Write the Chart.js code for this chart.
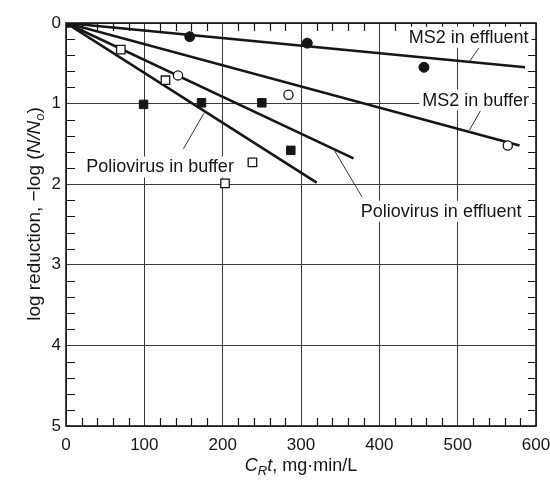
<!DOCTYPE html>
<html><head><meta charset="utf-8">
<script src="https://cdn.jsdelivr.net/npm/chart.js@4.4.1/dist/chart.umd.min.js"></script>
<style>html,body{margin:0;padding:0;background:#fff;}#wrap{width:550px;height:485px;position:relative;}</style>
</head><body><div id="wrap"><canvas id="c" width="550" height="485"></canvas></div>
<script>
// ---- data ----
const xTickLabels = [0, 100, 200, 300, 400, 500, 600];
const yTickLabels = [0, 1, 2, 3, 4, 5];

const ms2EffluentX = [158, 308, 457];
const ms2EffluentY = [0.17, 0.25, 0.55];
const ms2BufferX = [143, 284, 564];
const ms2BufferY = [0.65, 0.89, 1.52];
const polioEffluentX = [0, 99, 173, 250, 287];
const polioEffluentY = [0, 1.01, 0.99, 0.99, 1.58];
const polioBufferX = [70, 127, 203, 238];
const polioBufferY = [0.33, 0.71, 1.99, 1.73];

// fitted lines: start and end points
const fitMs2EffluentX = [0, 586];
const fitMs2EffluentY = [0, 0.55];
const fitMs2BufferX = [0, 579];
const fitMs2BufferY = [0, 1.52];
const fitPolioEffluentX = [0, 367];
const fitPolioEffluentY = [0, 1.68];
const fitPolioBufferX = [0, 320];
const fitPolioBufferY = [0, 1.98];

// annotation labels: text, centre (x,y), leader from (x,y) to (x,y)
const labelTexts = ['MS2 in effluent', 'MS2 in buffer', 'Poliovirus in effluent', 'Poliovirus in buffer'];
const labelX = [514, 523, 479, 120];
const labelY = [0.17, 0.95, 2.33, 1.78];
const leaderFromX = [527, 529, 378, 150];
const leaderFromY = [0.31, 1.09, 2.16, 1.56];
const leaderToX = [515, 515, 342, 176];
const leaderToY = [0.48, 1.33, 1.57, 1.12];

// ---- chart ----
const pts = (xs, ys) => xs.map((x, i) => ({x: x, y: ys[i]}));
const INK = '#161616';
const FONT = '"Liberation Sans", Arial, Helvetica, sans-serif';

const lineDs = (xs, ys) => ({
  data: pts(xs, ys), showLine: true, borderColor: INK, borderWidth: 2.6,
  pointRadius: 0, fill: false, order: 5
});

const extras = {
  id: 'extras',
  afterDatasetsDraw(chart) {
    const ctx = chart.ctx, a = chart.chartArea;
    const xs = chart.scales.x, ys = chart.scales.y;
    ctx.save();
    // frame
    ctx.strokeStyle = INK; ctx.lineWidth = 1.6;
    ctx.strokeRect(a.left, a.top, a.right - a.left, a.bottom - a.top);
    // minor ticks
    ctx.lineWidth = 1.2;
    ctx.beginPath();
    for (let v = 20; v < 600; v += 20) {
      if (v % 100 === 0) continue;
      const px = Math.round(xs.getPixelForValue(v)) + 0.5;
      ctx.moveTo(px, a.bottom); ctx.lineTo(px, a.bottom - 8);
      ctx.moveTo(px, a.top); ctx.lineTo(px, a.top + 8);
    }
    for (let k = 1; k < 25; k++) {
      if (k % 5 === 0) continue;
      const py = Math.round(ys.getPixelForValue(k / 5)) + 0.5;
      ctx.moveTo(a.left, py); ctx.lineTo(a.left + 9, py);
      ctx.moveTo(a.right, py); ctx.lineTo(a.right - 8, py);
    }
    ctx.stroke();
    // labels with white background
    ctx.font = '18px ' + FONT;
    ctx.textBaseline = 'middle';
    ctx.textAlign = 'center';
    for (let i = 0; i < labelTexts.length; i++) {
      const cx = xs.getPixelForValue(labelX[i]);
      const cy = ys.getPixelForValue(labelY[i]);
      const w = ctx.measureText(labelTexts[i]).width;
      ctx.fillStyle = '#fff';
      ctx.fillRect(cx - w / 2 - 3, cy - 10, w + 6, 21);
      ctx.fillStyle = INK;
      ctx.fillText(labelTexts[i], cx, cy + 1);
    }
    // leader lines
    ctx.strokeStyle = '#333'; ctx.lineWidth = 1;
    ctx.beginPath();
    for (let i = 0; i < leaderFromX.length; i++) {
      ctx.moveTo(xs.getPixelForValue(leaderFromX[i]), ys.getPixelForValue(leaderFromY[i]));
      ctx.lineTo(xs.getPixelForValue(leaderToX[i]), ys.getPixelForValue(leaderToY[i]));
    }
    ctx.stroke();
    ctx.restore();
  },
  afterDraw(chart) {
    const ctx = chart.ctx, a = chart.chartArea;
    ctx.save();
    ctx.fillStyle = INK;
    ctx.textBaseline = 'middle';
    ctx.textAlign = 'left';
    const drawRuns = (runs, cx, cy, size) => {
      let total = 0;
      const sub = Math.round(size * 0.7);
      runs.forEach(r => {
        ctx.font = (r.it ? 'italic ' : '') + (r.sub ? sub : size) + 'px ' + FONT;
        r.w = ctx.measureText(r.t).width; total += r.w;
      });
      let x = cx - total / 2;
      runs.forEach(r => {
        ctx.font = (r.it ? 'italic ' : '') + (r.sub ? sub : size) + 'px ' + FONT;
        ctx.fillText(r.t, x, cy + (r.sub ? 5 : 0));
        x += r.w;
      });
    };
    drawRuns([{t: 'C', it: true}, {t: 'R', it: true, sub: true}, {t: 't', it: true}, {t: ', mg\u00b7min/L'}],
      (a.left + a.right) / 2, 466, 18);
    ctx.translate(35, 214);
    ctx.rotate(-Math.PI / 2);
    drawRuns([{t: 'log reduction, \u2212log ('}, {t: 'N/N', it: true}, {t: 'o', it: true, sub: true}, {t: ')'}], 0, 0, 19);
    ctx.restore();
  }
};

new Chart(document.getElementById('c'), {
  type: 'scatter',
  data: {
    datasets: [
      lineDs(fitMs2EffluentX, fitMs2EffluentY),
      lineDs(fitMs2BufferX, fitMs2BufferY),
      lineDs(fitPolioEffluentX, fitPolioEffluentY),
      lineDs(fitPolioBufferX, fitPolioBufferY),
      {data: pts(ms2EffluentX, ms2EffluentY), pointStyle: 'circle', pointRadius: 5,
        backgroundColor: INK, borderColor: INK, borderWidth: 1, order: 1},
      {data: pts(ms2BufferX, ms2BufferY), pointStyle: 'circle', pointRadius: 4.6,
        backgroundColor: '#fff', borderColor: INK, borderWidth: 1.3, order: 1},
      {data: pts(polioEffluentX, polioEffluentY), pointStyle: 'rect', pointRadius: 6,
        backgroundColor: INK, borderColor: INK, borderWidth: 1, order: 1},
      {data: pts(polioBufferX, polioBufferY), pointStyle: 'rect', pointRadius: 6,
        backgroundColor: '#fff', borderColor: INK, borderWidth: 1.3, order: 1}
    ]
  },
  options: {
    responsive: false, animation: false,
    layout: {padding: {top: 23, right: 14, left: 0, bottom: 0}},
    plugins: {legend: {display: false}, tooltip: {enabled: false}},
    scales: {
      x: {
        type: 'linear', min: 0, max: 600,
        afterBuildTicks: s => { s.ticks = xTickLabels.map(v => ({value: v})); },
        ticks: {font: {size: 17, family: FONT}, color: INK, padding: 9, maxRotation: 0, autoSkip: false},
        grid: {color: '#3a3a3a', lineWidth: 1, drawTicks: false},
        border: {display: false},
        afterFit: s => { s.height = 59; s.paddingLeft = 0; s.paddingRight = 0; }
      },
      y: {
        type: 'linear', min: 0, max: 5, reverse: true,
        afterBuildTicks: s => { s.ticks = yTickLabels.map(v => ({value: v})); },
        ticks: {font: {size: 17, family: FONT}, color: INK, padding: 5, autoSkip: false},
        grid: {color: '#3a3a3a', lineWidth: 1, drawTicks: false},
        border: {display: false},
        afterFit: s => { s.width = 66; s.paddingTop = 0; s.paddingBottom = 0; }
      }
    }
  },
  plugins: [extras]
});
</script></body></html>
